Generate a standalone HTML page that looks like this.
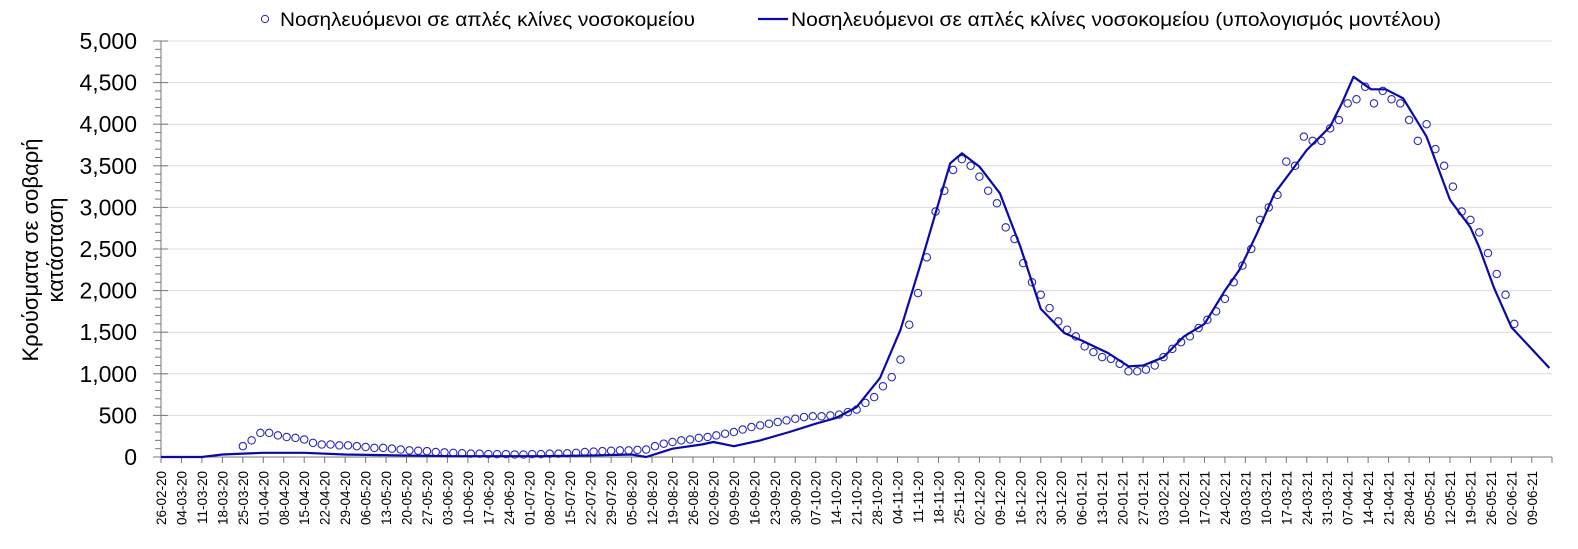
<!DOCTYPE html>
<html><head><meta charset="utf-8"><style>
body{margin:0;background:#fff;}
svg{display:block;font-family:"Liberation Sans",sans-serif;}
</style></head><body>
<svg id="chart" width="1578" height="549" viewBox="0 0 1578 549"></svg>
<script>
const yTicks=[0,500,1000,1500,2000,2500,3000,3500,4000,4500,5000];
const xTickLabels=["26-02-20","04-03-20","11-03-20","18-03-20","25-03-20","01-04-20","08-04-20","15-04-20","22-04-20","29-04-20","06-05-20","13-05-20","20-05-20","27-05-20","03-06-20","10-06-20","17-06-20","24-06-20","01-07-20","08-07-20","15-07-20","22-07-20","29-07-20","05-08-20","12-08-20","19-08-20","26-08-20","02-09-20","09-09-20","16-09-20","23-09-20","30-09-20","07-10-20","14-10-20","21-10-20","28-10-20","04-11-20","11-11-20","18-11-20","25-11-20","02-12-20","09-12-20","16-12-20","23-12-20","30-12-20","06-01-21","13-01-21","20-01-21","27-01-21","03-02-21","10-02-21","17-02-21","24-02-21","03-03-21","10-03-21","17-03-21","24-03-21","31-03-21","07-04-21","14-04-21","21-04-21","28-04-21","05-05-21","12-05-21","19-05-21","26-05-21","02-06-21","09-06-21"];
const obsStartDay=28, obsStepDays=3;
const observed=[130,200,290,290,260,240,230,210,170,150,150,140,140,130,120,110,110,100,90,80,75,70,60,55,50,45,40,40,35,35,35,30,30,35,35,40,40,45,50,60,65,70,75,80,80,85,90,130,160,180,200,210,230,240,260,280,300,330,360,380,400,420,440,460,480,490,490,500,510,540,570,650,720,
850,960,1170,1590,1970,2400,2950,3200,3450,3580,3500,3370,3200,3050,2760,2620,2330,2100,1950,1790,1630,1530,1450,1330,1260,1200,1180,1120,1030,1030,1050,1100,1200,1300,1380,1450,1550,1650,1750,
1900,2100,2300,2500,2850,3000,3150,3550,3500,3850,3800,3800,3950,4050,4250,4300,4450,4250,4400,4300,4250,4050,3800,4000,3700,3500,3250,2950,2850,2700,2450,2200,1950,1600];
const modelDays=[0,14,21,35,49,63,80,100,130,150,161,166,175,185,189,196,205,215,224,231,238,246,253,260,266,270,274,280,287,294,301,309,315,324,331,336,343,350,357,364,369,375,381,387,392,400,404,408,414,419,425,433,441,448,451,456,462,475];
const modelValues=[0,0,30,50,50,30,20,10,10,20,30,0,100,150,180,130,200,300,400,470,600,950,1530,2330,3050,3530,3650,3490,3170,2530,1780,1490,1400,1250,1090,1100,1200,1450,1600,2000,2250,2690,3170,3450,3690,3970,4250,4570,4420,4420,4310,3850,3090,2760,2520,2040,1560,1070];

const NS="http://www.w3.org/2000/svg";
const svg=document.getElementById('chart');
const X0=161, DX=20.46/7, Y0=457, YK=416/5000;
const xs=d=>X0+d*DX, ys=v=>Y0-v*YK;
function mk(t,a,p){const e=document.createElementNS(NS,t);for(const k in a)e.setAttribute(k,a[k]);(p||svg).appendChild(e);return e;}

for(let v=0;v<=5000;v+=100){
  if(v%500===0) continue;
  const m=mk('line',{x1:155,x2:161,y1:ys(v),y2:ys(v),stroke:'#777'});
  
  
}
yTicks.forEach(v=>{
  if(v>0){const g=mk('line',{x1:161,x2:1552,y1:ys(v),y2:ys(v),stroke:'#dcdcdc','stroke-width':1});
  
  }
  const t=mk('line',{x1:153,x2:168,y1:ys(v),y2:ys(v),stroke:'#777'});
  
  
  const l=mk('text',{x:137,y:ys(v)+8,'text-anchor':'end','font-size':23,fill:'#000'});
  l.textContent=v.toLocaleString('en-US');
  
  
});
const ya=mk('line',{x1:161,x2:161,y1:41,y2:457,stroke:'#777'});


const xa=mk('line',{x1:161,x2:1552,y1:457,y2:457,stroke:'#777'});


xTickLabels.forEach((s,i)=>{
  const x=xs(i*7);
  const t=mk('line',{x1:x,x2:x,y1:457,y2:463,stroke:'#777'});
  
  
  const l=mk('text',{x:0,y:0,'text-anchor':'end','font-size':13.5,fill:'#000',transform:`translate(${x+5},471) rotate(-90)`});
  l.textContent=s;
  
  
});
const te=mk('line',{x1:1552,x2:1552,y1:457,y2:463,stroke:'#777'});


const yt=mk('text',{transform:'translate(42,250) rotate(-90)','text-anchor':'middle','font-size':22,fill:'#000'});


const t1=mk('tspan',{x:0,dy:-4},yt);t1.textContent='Κρούσματα σε σοβαρή';
const t2=mk('tspan',{x:0,dy:25},yt);t2.textContent='κατάσταση';

const obsG=mk('g',{});


observed.forEach((v,i)=>{
  const c=mk('circle',{cx:xs(obsStartDay+i*obsStepDays),cy:ys(v),r:3.7,fill:'#fff',stroke:'#2a2ab8','stroke-width':1.1},obsG);
  
  
});
const pts=modelDays.map((d,i)=>xs(d).toFixed(1)+','+ys(modelValues[i]).toFixed(1)).join(' ');
const ml=mk('polyline',{points:pts,fill:'none',stroke:'#0a0aa8','stroke-width':2.2,'stroke-linejoin':'round'});



const lg=mk('g',{});


const lc=mk('circle',{cx:265,cy:19,r:3.6,fill:'#fff',stroke:'#2a2ab8'},lg);


const lt1=mk('text',{x:280,y:26,'font-size':19,fill:'#000',textLength:415,lengthAdjust:'spacingAndGlyphs'},lg);
lt1.textContent='Νοσηλευόμενοι σε απλές κλίνες νοσοκομείου';


const ll=mk('line',{x1:758,x2:788,y1:19,y2:19,stroke:'#0a0aa8','stroke-width':2.2},lg);


const lt2=mk('text',{x:791,y:26,'font-size':19,fill:'#000',textLength:650,lengthAdjust:'spacingAndGlyphs'},lg);
lt2.textContent='Νοσηλευόμενοι σε απλές κλίνες νοσοκομείου (υπολογισμός μοντέλου)';


</script>
</body></html>
